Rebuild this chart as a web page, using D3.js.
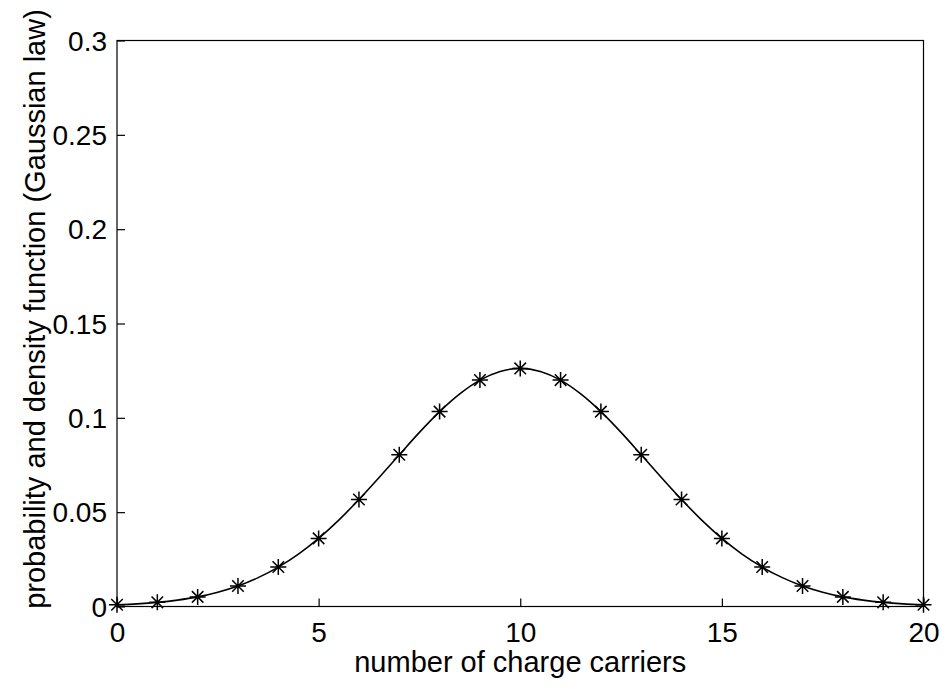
<!DOCTYPE html>
<html>
<head>
<meta charset="utf-8">
<script src="https://cdn.jsdelivr.net/npm/d3@7"></script>
<style>
  body { margin: 0; background: #fff; }
  text { font-family: "Liberation Sans", Arial, sans-serif; fill: #000; }
</style>
</head>
<body>
<div id="chart"></div>
<script>
// carriers (markers) and read-off probabilities
const carriers = [0,1,2,3,4,5,6,7,8,9,10,11,12,13,14,15,16,17,18,19,20]
const probability = [0.0009,0.0022,0.0051,0.0109,0.0209,0.0361,0.0567,0.0804,0.1033,0.1200,0.1262,
                     0.1200,0.1033,0.0804,0.0567,0.0361,0.0209,0.0109,0.0051,0.0022,0.0009]

// density curve read at half steps
const curveX = [0,0.5,1,1.5,2,2.5,3,3.5,4,4.5,5,5.5,6,6.5,7,7.5,8,8.5,9,9.5,10,
                10.5,11,11.5,12,12.5,13,13.5,14,14.5,15,15.5,16,16.5,17,17.5,18,18.5,19,19.5,20]
const curveY = [0.0009,0.0014,0.0022,0.0034,0.0051,0.0076,0.0109,0.0153,0.0209,0.0278,0.0361,
                0.0458,0.0567,0.0684,0.0804,0.0923,0.1033,0.1127,0.1200,0.1246,0.1262,
                0.1246,0.1200,0.1127,0.1033,0.0923,0.0804,0.0684,0.0567,0.0458,0.0361,
                0.0278,0.0209,0.0153,0.0109,0.0076,0.0051,0.0034,0.0022,0.0014,0.0009]

const xTicks = [0,5,10,15,20]
const yTicks = [0,0.05,0.1,0.15,0.2,0.25,0.3]

const width = 945, height = 692
const margin = {top: 40.5, right: 21.5, bottom: 85.5, left: 117}

const svg = d3.select("#chart").append("svg")
  .attr("width", width)
  .attr("height", height)

const x = d3.scaleLinear().domain([0, 20]).range([margin.left, width - margin.right])
const y = d3.scaleLinear().domain([0, 0.3]).range([height - margin.bottom, margin.top])

// box
svg.append("rect")
  .attr("x", x(0)).attr("y", y(0.3))
  .attr("width", x(20) - x(0)).attr("height", y(0) - y(0.3))
  .attr("fill", "none").attr("stroke", "#000").attr("stroke-width", 1.2)

const xAxis = svg.append("g")
  .attr("transform", `translate(0,${y(0)})`)
  .call(d3.axisBottom(x).tickValues(xTicks).tickSize(-8).tickPadding(16).tickFormat(d3.format("d")))
const yAxis = svg.append("g")
  .attr("transform", `translate(${x(0)},0)`)
  .call(d3.axisLeft(y).tickValues(yTicks).tickSize(-8).tickPadding(10).tickFormat(d => d === 0 ? "0" : String(d)))

for (const ax of [xAxis, yAxis]) {
  ax.select(".domain").remove()
  ax.selectAll(".tick line").attr("stroke", "#000").attr("stroke-width", 1.2)
  ax.selectAll("text").style("font-size", "28px").attr("fill", "#000")
}
xAxis.selectAll("text").attr("dy", "0.71em")
yAxis.selectAll("text").attr("dy", "0.34em")

// curve
const line = d3.line()
  .x((d, i) => x(curveX[i]))
  .y(d => y(d))
  .curve(d3.curveMonotoneX)

svg.append("path")
  .datum(curveY)
  .attr("d", line)
  .attr("fill", "none")
  .attr("stroke", "#000")
  .attr("stroke-width", 1.6)

// asterisk markers
const r = 8, rd = r * 0.72
const star = `M${-r},0H${r}M0,${-r}V${r}M${-rd},${-rd}L${rd},${rd}M${-rd},${rd}L${rd},${-rd}`
svg.append("g")
  .selectAll("path")
  .data(carriers)
  .join("path")
    .attr("transform", (d, i) => `translate(${x(d)},${y(probability[i])})`)
    .attr("d", star)
    .attr("fill", "none")
    .attr("stroke", "#000")
    .attr("stroke-width", 1.5)

// axis labels
svg.append("text")
  .attr("x", (x(0) + x(20)) / 2)
  .attr("y", 672)
  .attr("text-anchor", "middle")
  .style("font-size", "29px")
  .text("number of charge carriers")

svg.append("text")
  .attr("transform", `translate(45,309) rotate(-90)`)
  .attr("text-anchor", "middle")
  .style("font-size", "29px")
  .text("probability and density function (Gaussian law)")
</script>
</body>
</html>
